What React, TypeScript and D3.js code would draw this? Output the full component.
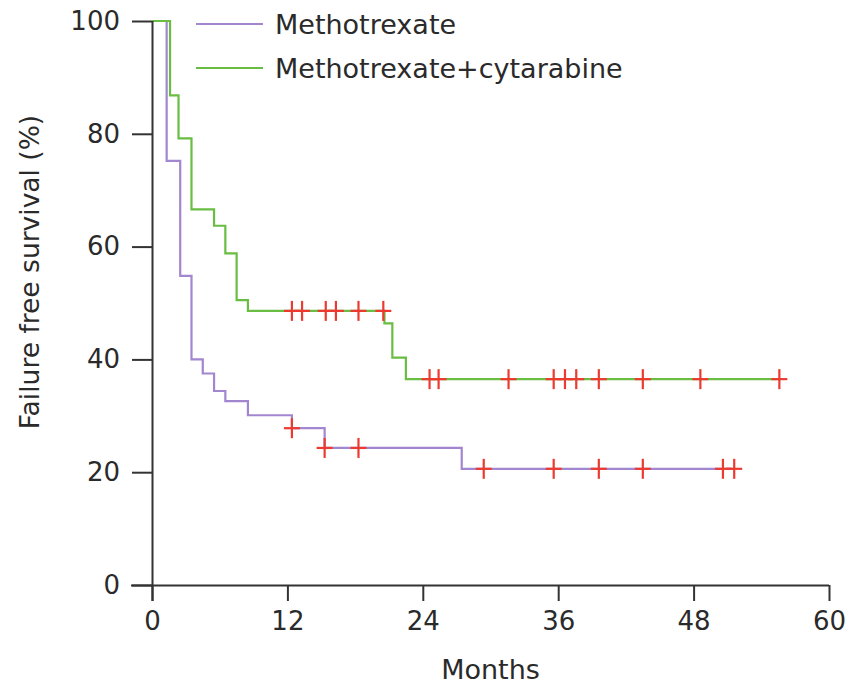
import React, { useEffect, useRef } from "react";
import * as d3 from "d3";

// Kaplan–Meier step data: event times (months) and survival (%) after each step
const mtxTimes = [0, 1.3, 2.5, 3.5, 4.5, 5.5, 6.5, 8.5, 12.4, 15.3, 27.45];
const mtxSurvival = [100, 75.2, 54.8, 40, 37.5, 34.4, 32.6, 30.1, 27.8, 24.3, 20.6];
const mtxEnd = 51.6;
const mtxCensored = [12.4, 15.3, 18.3, 29.4, 35.6, 39.6, 43.5, 50.6, 51.6];

const comboTimes = [0, 1.6, 2.35, 3.5, 5.5, 6.5, 7.5, 8.5, 20.6, 21.3, 22.5];
const comboSurvival = [100, 86.8, 79.2, 66.6, 63.7, 58.8, 50.5, 48.6, 46.4, 40.3, 36.5];
const comboEnd = 55.6;
const comboCensored = [12.4, 13.3, 15.4, 16.3, 18.3, 20.5, 24.6, 25.4, 31.6, 35.6, 36.6, 37.6, 39.6, 43.5, 48.6, 55.6];

const seriesNames = ["Methotrexate", "Methotrexate+cytarabine"];
const xTicks = [0, 12, 24, 36, 48, 60];
const yTicks = [0, 20, 40, 60, 80, 100];

const W = 854;
const H = 688;
const FONT = "'DejaVu Sans', sans-serif";
const AXIS = "#333333";
const TEXT = "#2a2a2a";
const PURPLE = "#a286cf";
const GREEN = "#68bd42";
const RED = "#ec3a30";

function survivalAt(times: number[], vals: number[], t: number) {
  let v = vals[0];
  for (let i = 0; i < times.length; i++) if (times[i] <= t) v = vals[i];
  return v;
}

export default function App() {
  const ref = useRef<SVGSVGElement | null>(null);

  useEffect(() => {
    const svg = d3.select(ref.current);
    svg.selectAll("*").remove();

    const x = d3.scaleLinear().domain([0, 60]).range([152, 829]);
    const y = d3.scaleLinear().domain([0, 100]).range([585, 21]);

    const series = [
      { times: mtxTimes, vals: mtxSurvival, end: mtxEnd, cens: mtxCensored, color: PURPLE },
      { times: comboTimes, vals: comboSurvival, end: comboEnd, cens: comboCensored, color: GREEN },
    ];

    const line = d3
      .line<[number, number]>()
      .x((d) => x(d[0]))
      .y((d) => y(d[1]))
      .curve(d3.curveStepAfter);

    // survival curves
    series.forEach((s) => {
      const pts: [number, number][] = s.times.map((t, i) => [t, s.vals[i]]);
      pts.push([s.end, s.vals[s.vals.length - 1]]);
      svg
        .append("path")
        .attr("d", line(pts))
        .attr("fill", "none")
        .attr("stroke", s.color)
        .attr("stroke-width", 2.2);
    });

    // censoring marks
    series.forEach((s) => {
      s.cens.forEach((t) => {
        const cx = x(t);
        const cy = y(survivalAt(s.times, s.vals, t));
        const g = svg.append("g").attr("stroke", RED).attr("stroke-width", 2.2);
        g.append("line").attr("x1", cx - 8).attr("x2", cx + 8).attr("y1", cy).attr("y2", cy);
        g.append("line").attr("x1", cx).attr("x2", cx).attr("y1", cy - 10).attr("y2", cy + 10);
      });
    });

    // axes
    const xAxis = d3.axisBottom(x).tickValues(xTicks).tickSize(16).tickSizeOuter(0).tickPadding(6);
    const gx = svg.append("g").attr("transform", "translate(0,585)").call(xAxis);
    gx.select(".domain").attr("d", `M131,0.5H829`);

    const yAxis = d3.axisLeft(y).tickValues(yTicks).tickSize(20).tickSizeOuter(0).tickPadding(12);
    const gy = svg.append("g").attr("transform", "translate(152,0)").call(yAxis);
    gy.select(".domain").attr("d", `M0.5,21V601`);

    [gx, gy].forEach((g) => {
      g.selectAll(".domain").attr("stroke", AXIS).attr("stroke-width", 2);
      g.selectAll(".tick line").attr("stroke", AXIS).attr("stroke-width", 2);
      g.selectAll(".tick text")
        .attr("fill", TEXT)
        .style("font-family", FONT)
        .style("font-size", "26px");
    });
    gx.selectAll(".tick text").attr("dy", "0.9em");

    // axis titles
    svg
      .append("text")
      .attr("x", x(30))
      .attr("y", 679)
      .attr("text-anchor", "middle")
      .attr("fill", TEXT)
      .style("font-family", FONT)
      .style("font-size", "27px")
      .text("Months");

    svg
      .append("text")
      .attr("transform", `translate(39,272) rotate(-90)`)
      .attr("text-anchor", "middle")
      .attr("fill", TEXT)
      .style("font-family", FONT)
      .style("font-size", "26.5px")
      .text("Failure free survival (%)");

    // legend
    const legend = svg.append("g");
    [PURPLE, GREEN].forEach((c, i) => {
      const ly = 24 + i * 44;
      legend
        .append("line")
        .attr("x1", 196)
        .attr("x2", 263)
        .attr("y1", ly)
        .attr("y2", ly)
        .attr("stroke", c)
        .attr("stroke-width", 2.2);
      legend
        .append("text")
        .attr("x", 275)
        .attr("y", ly + 10)
        .attr("fill", TEXT)
        .style("font-family", FONT)
        .style("font-size", "27px")
        .text(seriesNames[i]);
    });
  }, []);

  return (
    <svg
      ref={ref}
      width={W}
      height={H}
      style={{ position: "absolute", left: 0, top: 0, background: "#fff" }}
    />
  );
}
